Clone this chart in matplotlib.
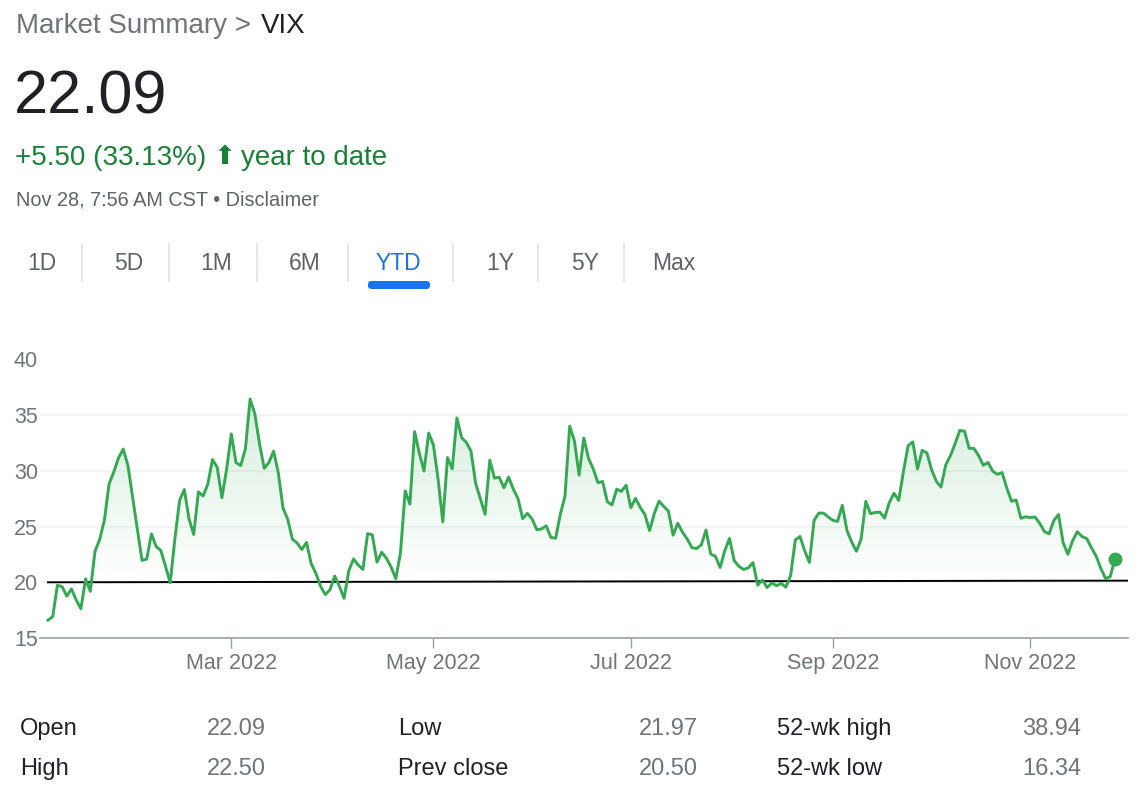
import numpy as np
import pandas as pd
import matplotlib
matplotlib.use("Agg")
import matplotlib.pyplot as plt
from matplotlib.lines import Line2D
from matplotlib.patches import FancyBboxPatch
from matplotlib.transforms import IdentityTransform

# VIX daily closes, 2022 year to date
vix_close = [
    16.60, 16.91, 19.73, 19.61, 18.76, 19.40, 18.41, 17.62, 20.31, 19.19,
    22.79, 23.85, 25.59, 28.85, 29.90, 31.16, 31.96, 30.49, 27.66, 24.83,   # Jan
    21.96, 22.09, 24.35, 23.22, 22.86, 21.44, 19.96, 23.91, 27.36, 28.33,
    25.70, 24.29, 28.11, 27.75, 28.81, 31.02, 30.32, 27.59, 30.15,          # Feb
    33.32, 30.74, 30.48, 31.98, 36.45, 35.13, 32.45, 30.23, 30.75, 31.77,
    29.83, 26.67, 25.67, 23.87, 23.53, 22.94, 23.57, 21.67, 20.81, 19.63,
    18.90, 19.33, 20.56,                                                    # Mar
    19.63, 18.57, 21.03, 22.10, 21.55, 21.16, 24.37, 24.26, 21.82, 22.70,
    22.17, 21.37, 20.32, 22.68, 28.21, 27.02, 33.52, 31.60, 29.99, 33.40,   # Apr
    32.34, 29.25, 25.42, 31.20, 30.19, 34.75, 32.99, 32.56, 31.77, 28.87,
    27.47, 26.10, 30.96, 29.35, 29.43, 28.48, 29.45, 28.37, 27.50, 25.72,
    26.19,                                                                  # May
    25.69, 24.72, 24.79, 25.07, 24.02, 23.96, 26.09, 27.75, 34.02, 32.69,
    29.62, 32.95, 31.13, 30.19, 28.95, 29.05, 27.23, 26.95, 28.36, 28.16,
    28.71,                                                                  # Jun
    26.70, 27.54, 26.73, 26.08, 24.64, 26.17, 27.29, 26.82, 26.40, 24.23,
    25.30, 24.50, 23.88, 23.11, 23.03, 23.36, 24.69, 22.54, 22.33, 21.33,   # Jul
    22.84, 23.93, 21.95, 21.44, 21.15, 21.29, 21.77, 19.74, 20.20, 19.53,
    19.95, 19.69, 19.90, 19.56, 20.60, 23.80, 24.11, 22.82, 21.78, 25.56,
    26.21, 26.21, 25.87,                                                    # Aug
    25.56, 25.47, 26.91, 24.64, 23.61, 22.79, 23.87, 27.27, 26.16, 26.27,
    26.30, 25.76, 27.16, 27.99, 27.35, 29.92, 32.26, 32.60, 30.18, 31.84,
    31.62,                                                                  # Sep
    30.10, 29.07, 28.55, 30.52, 31.36, 32.45, 33.63, 33.57, 32.02, 32.02,
    31.37, 30.50, 30.76, 29.98, 29.69, 29.85, 28.46, 27.28, 27.39, 25.75,
    25.88,                                                                  # Oct
    25.81, 25.86, 25.30, 24.55, 24.35, 25.54, 26.09, 23.53, 22.52, 23.73,
    24.54, 24.11, 23.93, 23.12, 22.36, 21.25, 20.35, 20.50, 22.09,          # Nov
]
market_holidays = ["2022-01-17", "2022-02-21", "2022-04-15", "2022-05-30",
                   "2022-06-20", "2022-07-04", "2022-09-05", "2022-11-24"]
baseline = [20.0, 20.15]
tick_months = [3, 5, 7, 9, 11]
yticks = [15, 20, 25, 30, 35, 40]

tabs = ["1D", "5D", "1M", "6M", "YTD", "1Y", "5Y", "Max"]
stats_labels = [["Open", "Low", "52-wk high"], ["High", "Prev close", "52-wk low"]]
stats_values = [["22.09", "21.97", "38.94"], ["22.50", "20.50", "16.34"]]

dates = pd.bdate_range("2022-01-03", "2022-11-28", freq="C", holidays=market_holidays)
vals = np.array(vix_close)
idx = np.arange(len(vals))

W, H = 1140, 794
GREEN = "#34a853"
GRAY = "#70757a"
DARK = "#202124"
plt.rcParams["font.family"] = ["Liberation Sans", "DejaVu Sans"]

fig = plt.figure(figsize=(W / 100, H / 100), dpi=100)


def ftext(x, y, s, **kw):
    kw.setdefault("va", "center")
    return fig.text(x / W, 1 - y / H, s, **kw)


# header
ftext(16, 26, "Market Summary >", fontsize=20, color=GRAY)
ftext(261, 26, "VIX", fontsize=20, color=DARK)
ftext(14, 98, "22.09", fontsize=44, color=DARK)
ftext(15, 158, "+5.50 (33.13%)", fontsize=20, color="#188038")
ftext(214, 157, "\u2b06", fontsize=19, color="#188038", family="DejaVu Sans")
ftext(241, 158, "year to date", fontsize=20, color="#188038")
ftext(16, 200, "Nov 28, 7:56 AM CST \u2022 Disclaimer", fontsize=14.3, color="#5f6368")

# range tabs
tab_x = [42, 129, 216, 305, 398, 500, 585, 674]
for name, tx in zip(tabs, tab_x):
    ftext(tx, 264, name, fontsize=16.5, ha="center",
          color="#1a73e8" if name == "YTD" else "#5f6368")
for sx in [82, 169, 257, 348, 453, 538, 624]:
    fig.add_artist(Line2D([sx / W, sx / W], [1 - 244 / H, 1 - 281 / H],
                          color="#e0e2e5", lw=1.2))
fig.add_artist(FancyBboxPatch((368, H - 289), 62, 8,
                              boxstyle="round,pad=0,rounding_size=3.5",
                              transform=IdentityTransform(),
                              facecolor="#1a73e8", edgecolor="none"))

# chart
ax = fig.add_axes([40 / W, 1 - 638 / H, 1088 / W, (638 - 359.5) / H])
ax.set_ylim(15, 40)
ax.set_xlim(-8 / 4.7, (1128 - 48) / 4.7)

for yv in yticks[1:]:
    ax.axhline(yv, color="#f1f3f4", lw=1.2, zorder=0)

fill = ax.fill_between(idx, vals, 20, facecolor="none", edgecolor="none")
grad = np.zeros((256, 1, 4))
grad[:, 0, 0:3] = matplotlib.colors.to_rgb(GREEN)
grad[:, 0, 3] = np.linspace(0.2, 0.0, 256)
im = ax.imshow(grad, extent=[idx[0], idx[-1], 20, 36.5], origin="upper",
               aspect="auto", zorder=1, interpolation="bilinear")
im.set_clip_path(fill.get_paths()[0], transform=ax.transData)

ax.plot([idx[0], ax.get_xlim()[1]], baseline, color="black", lw=1.4, zorder=2)
ax.plot(idx, vals, color=GREEN, lw=2.1, zorder=3)
ax.plot(idx[-1], vals[-1], "o", color=GREEN, ms=9, zorder=4)

tick_pos = [int(np.argmax(dates.month == m)) for m in tick_months]
ax.set_xticks(tick_pos)
ax.set_xticklabels([dates[p].strftime("%b %Y") for p in tick_pos])
ax.set_yticks(yticks)
ax.tick_params(axis="x", length=7, width=1, color="#9aa0a6", pad=4,
               labelsize=15.5, labelcolor=GRAY)
ax.tick_params(axis="y", length=0, pad=1.5, labelsize=15.5, labelcolor=GRAY)
for side in ["top", "right", "left"]:
    ax.spines[side].set_visible(False)
ax.spines["bottom"].set_color("#9aa0a6")
ax.spines["bottom"].set_linewidth(1.2)
ax.patch.set_alpha(0)

# stats table
label_x = [20, 398, 777]
value_x = [266, 698, 1081]
for r, ry in enumerate([729, 769]):
    for c in range(3):
        ftext(label_x[c], ry, stats_labels[r][c], fontsize=17, color=DARK)
        ftext(value_x[c], ry, stats_values[r][c], fontsize=17, color=GRAY, ha="right")

fig.savefig("out.png", dpi=100)
